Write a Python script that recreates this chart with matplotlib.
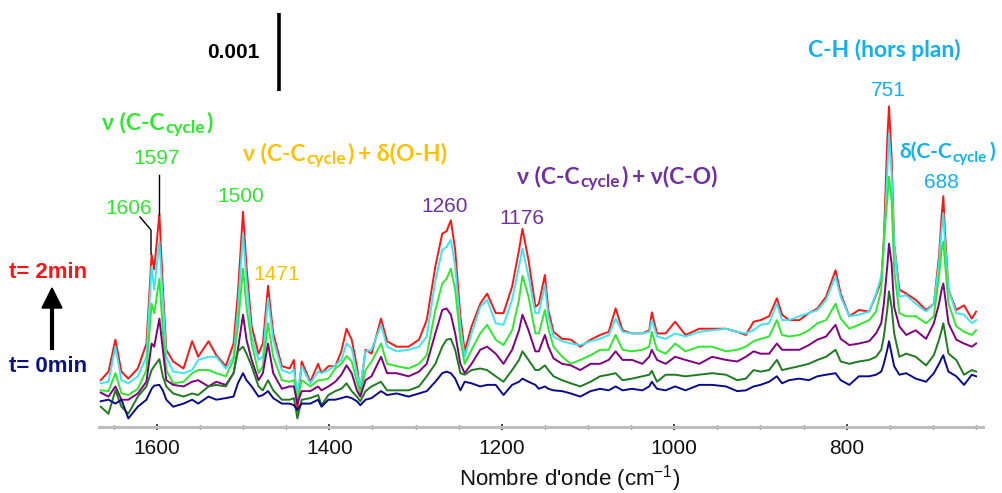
import numpy as np
import matplotlib
matplotlib.use("Agg")
import matplotlib.pyplot as plt
from matplotlib.transforms import IdentityTransform
from matplotlib.lines import Line2D
from matplotlib.patches import Polygon
from matplotlib.ticker import MultipleLocator

# ---------------- data (wavenumber in cm-1, absorbance in mAbs, offset spectra) ----------------
wavenumber = [
    1665, 1656, 1648, 1641, 1633, 1622, 1612, 1606, 1603, 1597, 1593, 1589, 1581, 1569, 1559, 1552, 1540, 1531,
    1520, 1511, 1506, 1500, 1496, 1490, 1482, 1477, 1471, 1465, 1455, 1446, 1441, 1437, 1432, 1422, 1413,
    1409, 1401, 1393, 1386, 1380, 1374, 1368, 1364, 1358, 1351, 1340, 1333, 1322, 1308, 1296, 1287, 1277,
    1269, 1264, 1259, 1254, 1248, 1243, 1235, 1225, 1217, 1207, 1198, 1188, 1180, 1176, 1169, 1161,
    1157, 1150, 1146, 1140, 1130, 1120, 1109, 1097, 1086, 1076, 1068, 1060, 1049, 1037, 1029, 1026, 1020,
    1010, 999, 987, 971, 956, 940, 927, 917, 908,
    900, 890, 881, 875, 867, 855, 844, 834, 824, 813, 807, 797, 786, 774, 766, 760, 757, 753, 751, 748,
    745, 739, 731, 720, 708, 699, 693, 690, 688, 686, 682, 673, 664, 655, 650,
]

t_2min = [
    0.60, 0.71, 1.12, 0.71, 0.62, 0.75, 1.07, 2.21, 2.02, 2.73, 1.80, 0.99, 0.84, 0.75, 1.10, 0.90, 1.10, 0.92,
    0.78, 1.07, 1.71, 2.76, 2.06, 1.29, 0.94, 1.07, 1.81, 1.20, 0.78, 0.75, 0.86, 0.20, 0.84, 0.58, 0.81,
    0.69, 0.78, 0.78, 0.97, 1.26, 1.12, 0.78, 0.46, 0.99, 0.94, 1.39, 1.10, 1.03, 1.03, 1.12, 1.37, 2.06,
    2.48, 2.51, 2.65, 2.27, 1.42, 0.97, 1.29, 1.58, 1.71, 1.46, 1.46, 1.80, 2.27, 2.54, 2.14, 1.54,
    1.58, 1.95, 1.50, 1.22, 1.13, 1.12, 1.03, 1.12, 1.18, 1.22, 1.52, 1.24, 1.20, 1.20, 1.24, 1.47, 1.20,
    1.20, 1.35, 1.18, 1.26, 1.26, 1.26, 1.22, 1.18, 1.35,
    1.37, 1.42, 1.65, 1.44, 1.37, 1.37, 1.46, 1.52, 1.67, 2.01, 1.71, 1.42, 1.50, 1.48, 1.69, 1.87, 2.40, 3.68, 4.11, 3.47,
    2.35, 1.76, 1.71, 1.63, 1.50, 1.58, 2.19, 2.70, 2.96, 2.48, 1.76, 1.50, 1.56, 1.39, 1.48,
]
t_cyan = [
    0.56, 0.58, 1.03, 0.60, 0.56, 0.65, 0.90, 2.06, 1.76, 2.38, 1.63, 0.90, 0.71, 0.69, 0.73, 0.86, 0.90, 0.90,
    0.75, 0.90, 1.50, 2.48, 1.88, 1.16, 0.86, 0.90, 1.65, 1.12, 0.73, 0.69, 0.73, 0.43, 0.78, 0.56, 0.71,
    0.69, 0.73, 0.79, 0.86, 1.07, 1.01, 0.69, 0.52, 0.97, 0.99, 1.31, 1.03, 0.97, 0.99, 1.03, 1.16, 1.88,
    2.27, 2.31, 2.40, 2.06, 1.29, 0.90, 1.20, 1.54, 1.63, 1.33, 1.31, 1.63, 2.06, 2.29, 1.93, 1.46,
    1.46, 1.82, 1.42, 1.16, 1.10, 1.07, 1.05, 1.10, 1.13, 1.18, 1.39, 1.22, 1.20, 1.20, 1.22, 1.37, 1.16,
    1.13, 1.20, 1.16, 1.22, 1.24, 1.26, 1.22, 1.20, 1.24,
    1.31, 1.33, 1.58, 1.37, 1.37, 1.42, 1.46, 1.50, 1.63, 1.93, 1.67, 1.42, 1.44, 1.48, 1.71, 1.93, 2.27, 3.25, 3.76, 3.25,
    2.35, 1.67, 1.69, 1.58, 1.48, 1.58, 2.10, 2.53, 2.74, 2.35, 1.76, 1.46, 1.44, 1.33, 1.37,
]
t_green = [
    0.47, 0.46, 0.69, 0.43, 0.41, 0.49, 0.73, 1.58, 1.46, 1.90, 1.24, 0.73, 0.56, 0.58, 0.69, 0.73, 0.73, 0.69,
    0.65, 0.86, 1.29, 2.03, 1.54, 1.07, 0.69, 0.78, 1.33, 0.90, 0.60, 0.58, 0.60, 0.35, 0.60, 0.52, 0.60,
    0.60, 0.62, 0.75, 0.81, 0.91, 0.84, 0.58, 0.43, 0.73, 0.84, 1.07, 0.81, 0.78, 0.75, 0.81, 0.92, 1.50,
    1.84, 1.90, 2.03, 1.76, 1.12, 0.81, 0.99, 1.20, 1.31, 1.12, 1.05, 1.24, 1.63, 1.94, 1.67, 1.20,
    1.20, 1.50, 1.26, 1.03, 0.90, 0.81, 0.86, 0.92, 0.99, 0.99, 1.18, 0.99, 0.97, 0.99, 1.03, 1.22, 0.99,
    0.94, 1.07, 0.97, 1.03, 1.03, 0.97, 0.99, 1.03, 1.10,
    1.13, 1.16, 1.37, 1.18, 1.16, 1.18, 1.24, 1.33, 1.37, 1.58, 1.39, 1.26, 1.31, 1.37, 1.48, 1.76, 2.40, 2.91, 3.21, 2.91,
    2.01, 1.46, 1.42, 1.42, 1.33, 1.42, 1.93, 2.27, 2.38, 2.10, 1.58, 1.29, 1.22, 1.18, 1.24,
]
t_purple = [
    0.44, 0.39, 0.52, 0.35, 0.35, 0.43, 0.58, 1.07, 1.03, 1.39, 0.99, 0.60, 0.54, 0.52, 0.58, 0.60, 0.52, 0.58,
    0.54, 0.69, 0.99, 1.44, 1.12, 0.86, 0.60, 0.69, 1.07, 0.69, 0.49, 0.52, 0.52, 0.30, 0.46, 0.46, 0.52,
    0.47, 0.52, 0.58, 0.67, 0.79, 0.69, 0.47, 0.39, 0.60, 0.65, 0.90, 0.69, 0.69, 0.65, 0.71, 0.81, 1.20,
    1.50, 1.52, 1.44, 1.20, 0.81, 0.69, 0.81, 0.99, 1.03, 0.94, 0.81, 0.99, 1.24, 1.44, 1.24, 0.97,
    0.97, 1.18, 1.03, 0.88, 0.81, 0.79, 0.73, 0.81, 0.81, 0.86, 0.97, 0.86, 0.86, 0.81, 0.90, 0.99, 0.86,
    0.81, 0.90, 0.86, 0.81, 0.90, 0.86, 0.84, 0.90, 0.97,
    0.94, 0.94, 1.07, 0.99, 0.99, 0.99, 1.05, 1.12, 1.16, 1.31, 1.13, 1.05, 1.07, 1.10, 1.20, 1.33, 1.58, 2.06, 2.35, 2.10,
    1.54, 1.29, 1.18, 1.24, 1.13, 1.33, 1.58, 1.76, 1.84, 1.67, 1.33, 1.12, 1.07, 1.03, 1.07,
]
t_darkgreen = [
    0.26, 0.17, 0.47, 0.26, 0.17, 0.39, 0.52, 0.73, 0.78, 0.87, 0.65, 0.52, 0.43, 0.39, 0.43, 0.41, 0.52, 0.54,
    0.52, 0.69, 0.97, 1.03, 0.94, 0.78, 0.52, 0.47, 0.60, 0.47, 0.35, 0.35, 0.37, 0.11, 0.35, 0.37, 0.41,
    0.28, 0.41, 0.46, 0.49, 0.56, 0.46, 0.39, 0.33, 0.46, 0.52, 0.58, 0.47, 0.47, 0.47, 0.52, 0.65, 0.81,
    1.03, 1.12, 1.13, 0.99, 0.69, 0.67, 0.73, 0.75, 0.73, 0.65, 0.58, 0.73, 0.86, 0.97, 0.86, 0.73,
    0.73, 0.79, 0.73, 0.65, 0.60, 0.56, 0.52, 0.58, 0.65, 0.67, 0.69, 0.60, 0.62, 0.65, 0.67, 0.72, 0.58,
    0.67, 0.67, 0.65, 0.67, 0.69, 0.67, 0.60, 0.62, 0.73,
    0.71, 0.73, 0.86, 0.73, 0.75, 0.78, 0.81, 0.86, 0.90, 0.99, 0.84, 0.81, 0.84, 0.86, 0.90, 0.99, 1.16, 1.50, 1.74, 1.54,
    1.20, 0.90, 0.94, 0.90, 0.79, 0.92, 1.12, 1.24, 1.33, 1.20, 0.94, 0.86, 0.67, 0.73, 0.71,
]
t_0min = [
    0.33, 0.35, 0.30, 0.35, 0.11, 0.26, 0.35, 0.49, 0.53, 0.54, 0.47, 0.35, 0.26, 0.30, 0.35, 0.30, 0.39, 0.35,
    0.37, 0.39, 0.56, 0.69, 0.60, 0.52, 0.39, 0.41, 0.46, 0.37, 0.30, 0.30, 0.28, 0.22, 0.30, 0.30, 0.35,
    0.26, 0.35, 0.35, 0.37, 0.39, 0.37, 0.33, 0.28, 0.35, 0.37, 0.46, 0.41, 0.43, 0.39, 0.43, 0.46, 0.58,
    0.69, 0.71, 0.69, 0.62, 0.47, 0.58, 0.56, 0.52, 0.54, 0.54, 0.41, 0.54, 0.58, 0.62, 0.58, 0.54,
    0.49, 0.52, 0.49, 0.47, 0.46, 0.43, 0.39, 0.46, 0.49, 0.47, 0.52, 0.47, 0.49, 0.47, 0.52, 0.58, 0.49,
    0.47, 0.52, 0.47, 0.54, 0.54, 0.52, 0.46, 0.47, 0.52,
    0.54, 0.58, 0.65, 0.56, 0.60, 0.62, 0.60, 0.65, 0.67, 0.69, 0.60, 0.54, 0.65, 0.65, 0.67, 0.71, 0.81, 0.99, 1.10, 0.94,
    0.78, 0.67, 0.69, 0.62, 0.58, 0.69, 0.81, 0.88, 0.92, 0.84, 0.71, 0.65, 0.54, 0.67, 0.65,
]

series_colors = ["#ff1414", "#3ae6f2", "#2ee82e", "#800080", "#1f7a1f", "#0a0a8c"]
series_list = [t_2min, t_cyan, t_green, t_purple, t_darkgreen, t_0min]

x_ticks = [1600, 1400, 1200, 1000, 800]
x_limits = (1667, 642)
scale_bar_value = 0.001            # absorbance
scale_bar_wn = 1458
scale_bar_base = 4.31e-3

peak_labels = [  # text, colour, (x px, y px)
    ("1606", "#2ee82e", (129, 208)),
    ("1597", "#2ee82e", (157, 158)),
    ("1500", "#2ee82e", (241, 196)),
    ("1471", "#ffc000", (277, 274)),
    ("1260", "#7030a0", (445, 206)),
    ("1176", "#7030a0", (522, 218)),
    ("751", "#12b0ec", (888, 91)),
    ("688", "#12b0ec", (941, 182)),
]

# ---------------- figure ----------------
plt.rcParams['font.family'] = ['Liberation Sans', 'DejaVu Sans']
plt.rcParams['mathtext.fontset'] = 'custom'
plt.rcParams['mathtext.rm'] = 'Liberation Sans'
plt.rcParams['mathtext.it'] = 'Liberation Sans:italic'
plt.rcParams['mathtext.bf'] = 'Liberation Sans:bold'

W, H = 1003, 493
fig = plt.figure(figsize=(W / 100, H / 100), dpi=100)
fig.patch.set_facecolor("white")
ax = fig.add_axes([99 / W, 1 - 427 / H, (983 - 99) / W, 427 / H])
ax.patch.set_alpha(0)

wn = np.array(wavenumber, dtype=float)
for vals, col in zip(series_list, series_colors):
    ax.plot(wn, np.array(vals) * 1e-3, color=col, lw=1.4, solid_joinstyle="round")

ax.set_xlim(*x_limits)
ax.set_ylim(0, 427 / 78 * 1e-3)
for s in ("left", "right", "top"):
    ax.spines[s].set_visible(False)
ax.spines["bottom"].set_color("#bdbdbd")
ax.spines["bottom"].set_linewidth(2.2)
ax.set_yticks([])
ax.set_xticks(x_ticks)
ax.xaxis.set_minor_locator(MultipleLocator(50))
ax.tick_params(axis="x", which="major", direction="inout", length=4, width=1.2, color="#222222",
               labelsize=15, pad=7, labelcolor="#111111")
ax.tick_params(axis="x", which="minor", direction="inout", length=3, width=1.0, color="#333333")

# scale bar (0.001 absorbance)
ax.plot([scale_bar_wn, scale_bar_wn], [scale_bar_base, scale_bar_base + scale_bar_value],
        color="black", lw=2.6, clip_on=False, solid_capstyle="butt")

ID = IdentityTransform()


def ftext(x, y, s, **kw):
    return fig.text(x, H - y, s, transform=ID, **kw)


ftext(233, 53, "0.001", fontsize=15, weight="bold", color="black", ha="center", va="center")

ftext(570, 479, "Nombre d'onde (cm$^{-1}$)", fontsize=16, color="#111111", ha="center", va="center")

ftext(48, 273, "t= 2min", fontsize=16, weight="bold", color="#ff1414", ha="center", va="center")
ftext(48, 367, "t= 0min", fontsize=16, weight="bold", color="#0a1480", ha="center", va="center")

# arrow t=0 -> t=2
fig.add_artist(Line2D([52, 52], [H - 348, H - 303], transform=ID, color="black", lw=3.0))
fig.add_artist(Polygon([[42, H - 308], [62, H - 308], [52, H - 288]], closed=True,
                       transform=ID, facecolor="black", edgecolor="black"))

# leader lines
fig.add_artist(Line2D([140, 151, 151], [H - 217, H - 230, H - 254], transform=ID, color="black", lw=1.0))
fig.add_artist(Line2D([159, 159], [H - 175, H - 215], transform=ID, color="black", lw=1.0))

for txt, col, (x, y) in peak_labels:
    ftext(x, y, txt, fontsize=15, color=col, ha="center", va="center")

renderer = fig.canvas.get_renderer()
LAB_FONT = ["Lato", "DejaVu Sans"]


def rich(x, y, parts, color, size=16.5):
    cx = x
    for s, rel, dy, gap in parts:
        cx += gap
        t = fig.text(cx, H - (y + dy), s, transform=ID, fontsize=size * rel, color=color,
                     family=LAB_FONT, weight="bold", ha="left", va="baseline")
        cx = t.get_window_extent(renderer).x1


rich(102, 129, [("ν (C-C", 1, 0, 0), ("cycle", 0.75, 4, 1), (")", 1, 0, 1)], "#2ee82e")
rich(243, 160, [("ν (C-C", 1, 0, 0), ("cycle", 0.75, 4, 1), (")", 1, 0, 1), ("+ δ(O-H)", 1, 0, 5)], "#ffc000")
rich(517, 183, [("ν (C-C", 1, 0, 0), ("cycle", 0.75, 4, 1), (")", 1, 0, 1), ("+ ν(C-O)", 1, 0, 5)], "#7030a0")
rich(808, 57, [("C-H (hors plan)", 1, 0, 0)], "#12b0ec")
rich(899, 158, [("δ(C-C", 1, 0, 0), ("cycle", 0.72, 4, 1), (")", 1, 0, 3)], "#12b0ec", size=15)

fig.savefig("out.png", dpi=100, facecolor="white")
